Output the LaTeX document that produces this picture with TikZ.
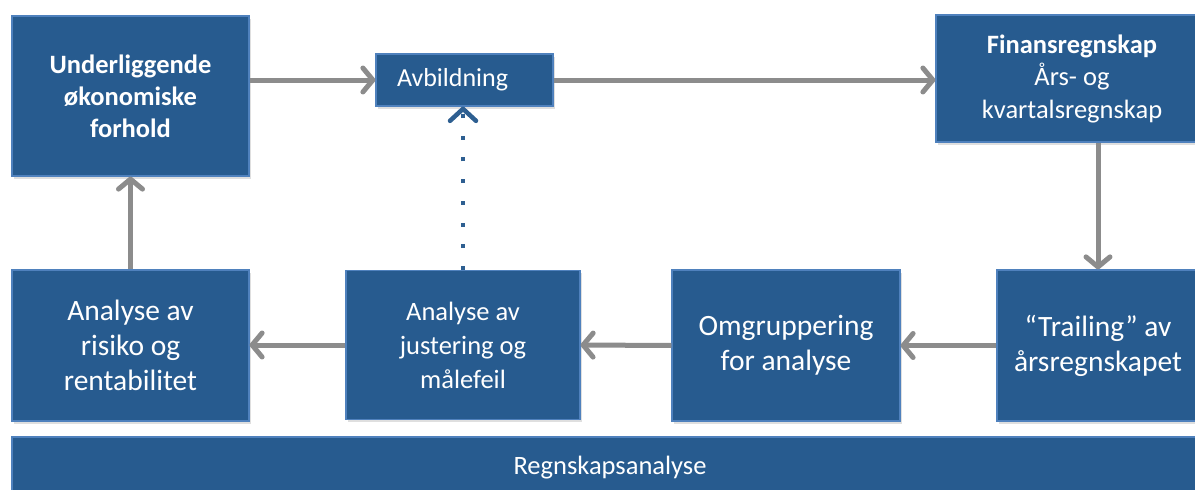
\documentclass[tikz,border=0pt]{standalone}
\usepackage{fontspec}
\setmainfont{Carlito}
\usetikzlibrary{arrows.meta,shadows}
\definecolor{boxblue}{HTML}{275B8F}
\definecolor{boxedge}{HTML}{4F81BD}
\definecolor{arrgray}{HTML}{8C8C8C}
\definecolor{dotblue}{HTML}{2E5F91}
\tikzset{
  blk/.style={draw=boxedge, line width=1.2pt, fill=boxblue, text=white, inner sep=0pt, align=center,
    drop shadow={shadow xshift=1.5pt, shadow yshift=-2.5pt, opacity=0.25}},
  arr/.style={draw=arrgray, line width=5pt, -{Straight Barb[length=10pt,width=24pt,round]}},
  dotarr/.style={draw=dotblue, line width=4pt, dash pattern=on 4pt off 17.7pt,
    -{Straight Barb[length=12pt,width=26pt,line width=4.5pt,round]}},
}
\begin{document}
\begin{tikzpicture}[x=1pt,y=-1pt]
\useasboundingbox (0,0) rectangle (1195,490);
\begin{scope}
\clip (0,0) rectangle (1195,490);
\node[blk, minimum width=237pt, minimum height=160pt, font=\fontsize{26.5}{32}\selectfont\bfseries] (A) at (130.5,96)
  {Underliggende\\økonomiske\\forhold};
\node[blk, minimum width=177pt, minimum height=52pt, text width=135pt, inner xsep=21pt, align=left,
  font=\fontsize{26}{30}\selectfont] (av) at (464.5,80)
  {Avbildning};
\node[blk, minimum width=272pt, minimum height=127pt, font=\fontsize{26.5}{32.5}\selectfont] (fin) at (1072,78.5)
  {\textbf{Finansregnskap}\\Års- og\\kvartalsregnskap};
\node[blk, minimum width=202pt, minimum height=151pt, font=\fontsize{29.5}{35}\selectfont] (tr) at (1098,345.5)
  {“Trailing” av\\årsregnskapet};
\node[blk, minimum width=228pt, minimum height=151pt, font=\fontsize{29.5}{35}\selectfont] (om) at (786,345.5)
  {Omgruppering\\for analyse};
\node[blk, minimum width=234pt, minimum height=149pt, font=\fontsize{26.5}{34}\selectfont] (ju) at (463,345)
  {Analyse av\\justering og\\målefeil};
\node[blk, minimum width=237pt, minimum height=151pt, font=\fontsize{29.5}{35}\selectfont] (ri) at (130.5,345.5)
  {Analyse av\\risiko og\\rentabilitet};
\node[blk, minimum width=1196pt, minimum height=66pt] (bar) at (610,470) {};
\node[text=white, font=\fontsize{26.5}{30}\selectfont] (bartext) at (610,468) {Regnskapsanalyse};
\end{scope}
\draw[arr] (A.east |- av.west) -- (av.west);
\draw[arr] (av.east) -- (fin.west |- av.east);
\draw[arr] (fin.south -| tr.north) -- (tr.north);
\draw[arr] (tr.west) -- (om.east);
\draw[arr] (om.west) -- (ju.east);
\draw[arr] (ju.west) -- (ri.east |- ju.west);
\draw[arr] (ri.north) -- (A.south);
\draw[dotarr] (ju.north) -- (ju.north |- av.south);
\end{tikzpicture}
\end{document}
